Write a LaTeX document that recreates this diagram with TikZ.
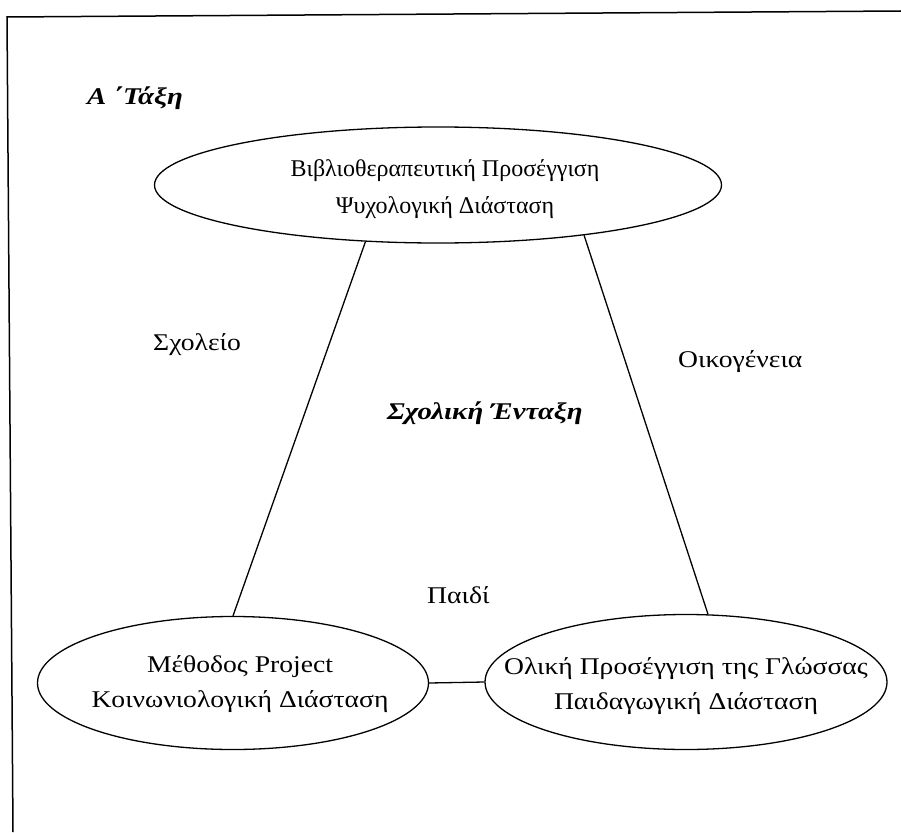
\documentclass[tikz,border=0pt]{standalone}
\usepackage{fontspec}
\setmainfont{Liberation Serif}
\newfontfamily\widefont{Liberation Serif}[FakeStretch=1.15]
\newfontfamily\titlefont{Liberation Serif}[FakeStretch=1.2]
\usetikzlibrary{shapes.geometric}
\tikzset{
  x=1pt,y=1pt,
  ell/.style={draw, ellipse, line width=1.3pt, inner sep=0pt},
  txt/.style={align=center, inner sep=0pt, font=\widefont\fontsize{24}{35}\selectfont},
  txtn/.style={align=center, inner sep=0pt, font=\fontsize{24}{37}\selectfont},
  lbl/.style={inner sep=0pt, anchor=base west, font=\widefont\fontsize{24}{28}\selectfont},
  ttl/.style={inner sep=0pt, anchor=base west, font=\titlefont\fontsize{24}{28}\selectfont\bfseries\itshape},
  con/.style={line width=1.3pt},
  frame/.style={line width=1.5pt}
}
\begin{document}
\begin{tikzpicture}
\useasboundingbox (0,0) rectangle (901,-832);
% frame (top and left edges)
\coordinate (fl) at (7,-17);
\coordinate (fr) at (901,-11);
\coordinate (fb) at (13,-832);
\draw[frame] (fr) -- (fl) -- (fb);
% ellipses
\node[ell, minimum width=567, minimum height=116] (top) at (438,-185) {};
\node[ell, minimum width=391, minimum height=133] (bl) at (233,-683) {};
\node[ell, minimum width=402, minimum height=135] (br) at (686,-682) {};
% texts inside
\node[txtn] (ttop) at (445,-189) {Βιβλιοθεραπευτική Προσέγγιση\\Ψυχολογική Διάσταση};
\node[txt] (tbl) at (240,-684) {Μέθοδος Project\\Κοινωνιολογική Διάσταση};
\node[txt] (tbr) at (686,-686) {Ολική Προσέγγιση της Γλώσσας\\Παιδαγωγική Διάσταση};
% connectors
\draw[con] (top.218.8) -- (bl.90);
\draw[con] (top.341) -- (br.72.6);
\draw[con] (bl.east) -- (br.west);
% labels
\node[ttl] (title) at (87,-105) {Α ΄Τάξη};
\node[lbl] (school) at (153,-350) {Σχολείο};
\node[lbl] (family) at (678,-367) {Οικογένεια};
\node[ttl] (integ) at (387,-419) {Σχολική Ένταξη};
\node[lbl] (child) at (427,-603) {Παιδί};
\end{tikzpicture}
\end{document}
